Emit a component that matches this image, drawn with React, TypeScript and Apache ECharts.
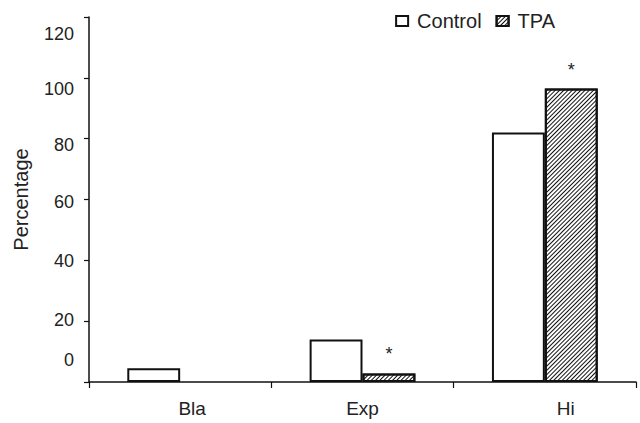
import React, { useEffect, useRef } from "react";
import * as echarts from "echarts";

const categories = ["Bla", "Exp", "Hi"];
const controlValues = [4.5, 14, 82];
const tpaValues = [0, 2.8, 96.5];
const tpaStars = ["", "*", "*"];
const yTicks = [0, 20, 40, 60, 80, 100, 120];

// visual offsets of the tick labels in the scanned figure (px)
const yLabelShift: Record<string, number> = { "0": -22, "20": -1, "40": 1, "60": 2, "80": 6, "100": 11, "120": 17 };
const xLabelShift: Record<string, number> = { Bla: 12, Exp: 0, Hi: 21 };

const FONT = "'Liberation Sans', Arial, Helvetica, sans-serif";

export default function App() {
  const ref = useRef<HTMLDivElement>(null);
  useEffect(() => {
    if (!ref.current) return;
    const chart = echarts.init(ref.current, undefined, { renderer: "svg" });
    const yRich: Record<string, any> = {};
    yTicks.forEach((t) => {
      const s = yLabelShift[String(t)] || 0;
      yRich["y" + t] = {
        fontFamily: FONT,
        fontSize: 18,
        color: "#222",
        padding: s >= 0 ? [2 * s, 0, 0, 0] : [0, 0, -2 * s, 0],
      };
    });
    const xRich: Record<string, any> = {};
    categories.forEach((c) => {
      const s = xLabelShift[c] || 0;
      xRich["x" + c] = {
        fontFamily: FONT,
        fontSize: 19,
        color: "#222",
        padding: s >= 0 ? [0, 0, 0, 2 * s] : [0, -2 * s, 0, 0],
      };
    });
    const hatch = {
      symbol: "rect",
      color: "#111",
      backgroundColor: "#fff",
      dashArrayX: [1, 0],
      dashArrayY: [1, 1.8],
      rotation: -Math.PI / 4,
      symbolSize: 1,
    };
    chart.setOption({
      animation: false,
      backgroundColor: "#fff",
      grid: { left: 89, right: 4, top: 17, bottom: 41, containLabel: false },
      legend: {
        right: 80,
        top: 6,
        itemWidth: 12,
        itemHeight: 10,
        itemGap: 14,
        textStyle: { fontFamily: FONT, fontSize: 20, color: "#222", padding: [0, 0, 0, 4] },
        data: [
          { name: "Control", icon: "rect" },
          { name: "TPA", icon: "rect" },
        ],
      },
      xAxis: {
        type: "category",
        data: categories,
        axisLine: { lineStyle: { color: "#111", width: 1.5 } },
        axisTick: { show: true, length: 6, lineStyle: { color: "#111", width: 1.2 } },
        axisLabel: {
          margin: 17,
          formatter: (v: string) => `{x${v}|${v}}`,
          rich: xRich,
        },
      },
      yAxis: {
        type: "value",
        min: 0,
        max: 120,
        interval: 20,
        name: "Percentage",
        nameLocation: "middle",
        nameGap: 58,
        nameTextStyle: { fontFamily: FONT, fontSize: 20, color: "#222" },
        splitLine: { show: false },
        axisLine: { show: true, lineStyle: { color: "#111", width: 1.5 } },
        axisTick: { show: true, length: 5, lineStyle: { color: "#111", width: 1.2 } },
        axisLabel: {
          margin: 15,
          formatter: (v: number) => `{y${v}|${v}}`,
          rich: yRich,
        },
      },
      series: [
        {
          name: "Control",
          type: "bar",
          data: controlValues,
          barGap: "0%",
          barCategoryGap: "42%",
          itemStyle: { color: "#fff", borderColor: "#111", borderWidth: 2 },
        },
        {
          name: "TPA",
          type: "bar",
          data: tpaValues.map((v, i) => ({
            value: v,
            itemStyle: v === 0 ? { borderWidth: 0 } : undefined,
            label: {
              show: tpaStars[i] !== "",
              formatter: tpaStars[i],
              position: "top",
              distance: i === 1 ? 10 : 9,
              fontFamily: FONT,
              fontSize: 18,
              color: "#222",
            },
          })),
          barGap: "0%",
          barCategoryGap: "42%",
          itemStyle: { color: "#fff", borderColor: "#111", borderWidth: 2, decal: hatch },
        },
      ],
    });
    return () => chart.dispose();
  }, []);
  return (
    <div
      ref={ref}
      style={{ position: "absolute", left: 0, top: 0, width: 640, height: 423, background: "#fff" }}
    />
  );
}
